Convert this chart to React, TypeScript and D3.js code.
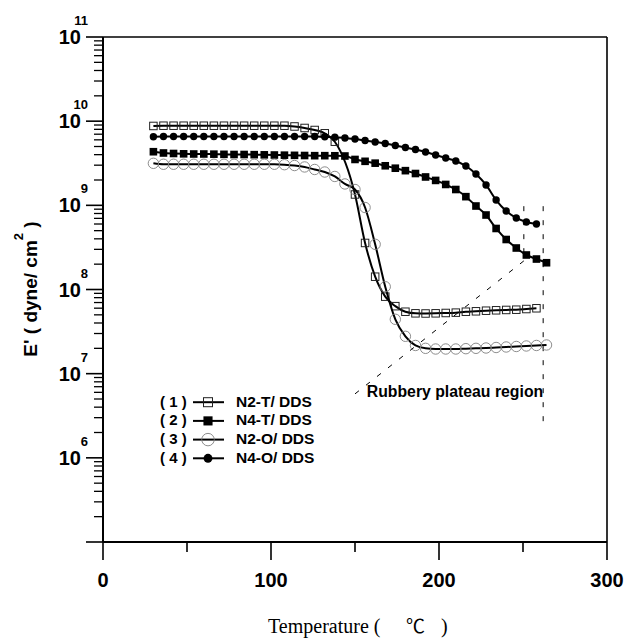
import React from "react";
import * as d3 from "d3";

// Temperatures (°C) of the measured points
const tempsLong = [30, 36, 42, 48, 54, 60, 66, 72, 78, 84, 90, 96, 102, 108, 114, 120, 126, 132, 138, 144, 150, 156, 162, 168, 174, 180, 186, 192, 198, 204, 210, 216, 222, 228, 234, 240, 246, 252, 258, 264];
const tempsN4O = [30, 36, 42, 48, 54, 60, 66, 72, 78, 84, 90, 96, 102, 108, 114, 120, 126, 132, 138, 144, 150, 156, 162, 168, 174, 180, 186, 192, 198, 204, 210, 216, 222, 228, 234, 240, 246, 252, 258];
const tempsN2T = [30, 36, 42, 48, 54, 60, 66, 72, 78, 84, 90, 96, 102, 108, 114, 120, 126, 132, 138, 150, 156, 162, 168, 174, 180, 186, 192, 198, 204, 210, 216, 222, 228, 234, 240, 246, 252, 258];

// log10 of E' (dyne/cm^2)
const logN2T = [9.943, 9.946, 9.946, 9.946, 9.946, 9.946, 9.946, 9.946, 9.946, 9.946, 9.946, 9.946, 9.946, 9.946, 9.937, 9.919, 9.895, 9.856, 9.756, 9.129, 8.553, 8.152, 7.915, 7.802, 7.736, 7.717, 7.715, 7.717, 7.721, 7.725, 7.736, 7.741, 7.748, 7.753, 7.757, 7.760, 7.768, 7.777];
const logN4T = [9.637, 9.622, 9.616, 9.612, 9.610, 9.610, 9.608, 9.606, 9.604, 9.604, 9.602, 9.600, 9.598, 9.596, 9.594, 9.592, 9.590, 9.590, 9.589, 9.586, 9.545, 9.523, 9.501, 9.470, 9.441, 9.412, 9.378, 9.337, 9.296, 9.248, 9.188, 9.103, 8.992, 8.885, 8.725, 8.594, 8.493, 8.410, 8.362, 8.318];
const logN2O = [9.499, 9.488, 9.488, 9.488, 9.488, 9.488, 9.488, 9.488, 9.488, 9.488, 9.488, 9.488, 9.488, 9.483, 9.473, 9.456, 9.426, 9.396, 9.343, 9.254, 9.188, 8.974, 8.537, 8.033, 7.646, 7.444, 7.335, 7.301, 7.293, 7.293, 7.293, 7.297, 7.301, 7.305, 7.311, 7.317, 7.323, 7.329, 7.335, 7.341];
const logN4O = [9.815, 9.818, 9.818, 9.818, 9.818, 9.818, 9.818, 9.818, 9.818, 9.818, 9.818, 9.818, 9.818, 9.818, 9.818, 9.818, 9.818, 9.814, 9.810, 9.800, 9.788, 9.770, 9.753, 9.735, 9.711, 9.687, 9.663, 9.634, 9.598, 9.562, 9.527, 9.467, 9.372, 9.242, 9.063, 8.933, 8.850, 8.802, 8.778];

const seriesNames = ["N2-T/ DDS", "N4-T/ DDS", "N2-O/ DDS", "N4-O/ DDS"];
const seriesNums = ["( 1 )", "( 2 )", "( 3 )", "( 4 )"];

const xTicks = [0, 100, 200, 300];
const xMinorTicks = [50, 150, 250];
const yExponents = [5, 6, 7, 8, 9, 10, 11];
const yLabelExponents = [6, 7, 8, 9, 10, 11];

// annotation (data coords: °C, log10 E')
const annoDiag = [[150, 6.76], [250.5, 8.34]];
const annoV1 = [[250.5, 8.99], [250.5, 8.34]];
const annoV2 = [[262, 8.99], [262, 6.43]];
const annoTextPos = [157, 6.723];

const W = 626, H = 640;
const x = d3.scaleLinear().domain([0, 300]).range([103, 607]);
const y = d3.scaleLog().domain([1e5, 1e11]).range([542, 37]);

type Shape = "osq" | "fsq" | "oci" | "fci";

function Marker({ shape, cx, cy, legend }: { shape: Shape; cx: number; cy: number; legend?: boolean }) {
  const k = legend ? 1.2 : 1;
  if (shape === "osq") {
    const s = 7.5 * k;
    return <rect x={cx - s / 2} y={cy - s / 2} width={s} height={s} fill="white" fillOpacity={0} stroke="#222" strokeWidth={1} />;
  }
  if (shape === "fsq") {
    const s = 7.6 * k;
    return <rect x={cx - s / 2} y={cy - s / 2} width={s} height={s} fill="#000" />;
  }
  if (shape === "oci") {
    return <circle cx={cx} cy={cy} r={5.2 * k} fill="none" stroke="#808080" strokeWidth={0.9} />;
  }
  return <circle cx={cx} cy={cy} r={3.7 * k} fill="#000" />;
}

function Series({ temps, logs, shape }: { temps: number[]; logs: number[]; shape: Shape }) {
  const pts: [number, number][] = temps.map((t, i) => [x(t), y(Math.pow(10, logs[i]))]);
  const line = d3.line().curve(d3.curveMonotoneX)(pts) || "";
  return (
    <g>
      <path d={line} fill="none" stroke="#000" strokeWidth={2} />
      {pts.map((p, i) => (
        <Marker key={i} shape={shape} cx={p[0]} cy={p[1]} />
      ))}
    </g>
  );
}

export default function App() {
  const font = "'Liberation Sans', Arial, sans-serif";
  const minorY: number[] = [];
  yExponents.slice(0, -1).forEach((e) => {
    for (let m = 2; m <= 9; m++) minorY.push(m * Math.pow(10, e));
  });
  const P = (d: number[]) => [x(d[0]), y(Math.pow(10, d[1]))];
  const dash = "5,9";
  const shapes: Shape[] = ["osq", "fsq", "oci", "fci"];
  return (
    <svg width={W} height={H} style={{ position: "absolute", left: 0, top: 0, background: "#fff" }} fontFamily={font}>
      <rect x={0} y={0} width={W} height={H} fill="#fff" />
      {/* frame */}
      <line x1={103} x2={607} y1={y(1e11)} y2={y(1e11)} stroke="#000" strokeWidth={1.6} />
      <line x1={607} x2={607} y1={y(1e11)} y2={y(1e5)} stroke="#000" strokeWidth={1.6} />
      <line x1={x(0)} x2={x(300)} y1={y(1e5)} y2={y(1e5)} stroke="#000" strokeWidth={2} />
      <line x1={x(0)} x2={x(0)} y1={y(1e11)} y2={y(1e5)} stroke="#000" strokeWidth={2} />
      {/* y ticks */}
      {yExponents.map((e) => (
        <line key={"ym" + e} x1={x(0) - 17} x2={x(0)} y1={y(Math.pow(10, e))} y2={y(Math.pow(10, e))} stroke="#000" strokeWidth={1.6} />
      ))}
      {minorY.map((v, i) => (
        <line key={"yn" + i} x1={x(0) - 9} x2={x(0)} y1={y(v)} y2={y(v)} stroke="#000" strokeWidth={1.3} />
      ))}
      {yLabelExponents.map((e) => (
        <g key={"yl" + e} fontWeight="bold">
          <text x={81} y={y(Math.pow(10, e)) + 7} fontSize={20} textAnchor="end">10</text>
          <text x={88} y={y(Math.pow(10, e)) - 12} fontSize={13} textAnchor="end">{e}</text>
        </g>
      ))}
      {/* x ticks */}
      {xTicks.map((t) => (
        <g key={"xt" + t}>
          <line x1={x(t)} x2={x(t)} y1={y(1e5)} y2={y(1e5) + 18} stroke="#000" strokeWidth={1.6} />
          <text x={x(t)} y={587} fontSize={20} fontWeight="bold" textAnchor="middle">{t}</text>
        </g>
      ))}
      {xMinorTicks.map((t) => (
        <line key={"xn" + t} x1={x(t)} x2={x(t)} y1={y(1e5)} y2={y(1e5) + 10} stroke="#000" strokeWidth={1.6} />
      ))}
      {/* axis titles */}
      <g fontFamily="'Liberation Serif', 'Times New Roman', serif" fontSize={20}>
        <text x={268} y={633}>Temperature (</text>
        <text x={406} y={633} fontFamily="'Noto Sans CJK SC', 'Liberation Serif', serif" fontSize={19}>℃</text>
        <text x={441} y={633}>)</text>
      </g>
      <text transform="translate(37,289) rotate(-90)" textAnchor="middle" fontSize={19} fontWeight="bold">
        E' ( dyne/ cm<tspan fontSize={13} dy={-14}>2</tspan><tspan dy={14}> )</tspan>
      </text>
      {/* annotation */}
      <g stroke="#000" strokeWidth={1} strokeDasharray={dash} fill="none">
        <line x1={P(annoDiag[0])[0]} y1={P(annoDiag[0])[1]} x2={P(annoDiag[1])[0]} y2={P(annoDiag[1])[1]} />
        <line x1={P(annoV1[0])[0]} y1={P(annoV1[0])[1]} x2={P(annoV1[1])[0]} y2={P(annoV1[1])[1]} />
        <line x1={P(annoV2[0])[0]} y1={P(annoV2[0])[1]} x2={P(annoV2[1])[0]} y2={P(annoV2[1])[1]} />
      </g>
      <text x={P(annoTextPos)[0]} y={P(annoTextPos)[1]} fontSize={15.8} fontWeight="bold">Rubbery plateau region</text>
      {/* series */}
      <Series temps={tempsN2T} logs={logN2T} shape="osq" />
      <Series temps={tempsLong} logs={logN4T} shape="fsq" />
      <Series temps={tempsLong} logs={logN2O} shape="oci" />
      <Series temps={tempsN4O} logs={logN4O} shape="fci" />
      {/* legend */}
      {seriesNames.map((n, i) => {
        const by = 406.7 + i * 18.7;
        return (
          <g key={"lg" + i}>
            <text x={160} y={by} fontSize={15} fontWeight="bold">{seriesNums[i]}</text>
            <line x1={193} x2={224} y1={by - 4.5} y2={by - 4.5} stroke="#000" strokeWidth={2} />
            <Marker shape={shapes[i]} cx={208} cy={by - 4.5} legend />
            <text x={236} y={by} fontSize={15.5} fontWeight="bold">{n}</text>
          </g>
        );
      })}
    </svg>
  );
}
